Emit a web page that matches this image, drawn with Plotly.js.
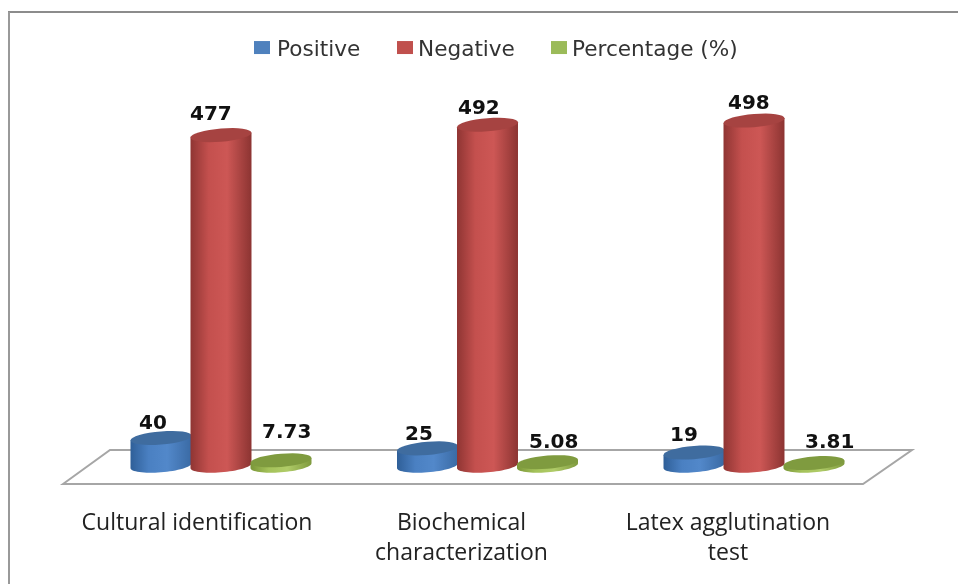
<!DOCTYPE html>
<html><head><meta charset="utf-8">
<script src="https://cdn.plot.ly/plotly-3.0.1.min.js"></script>
<style>html,body{margin:0;padding:0;background:#fff}#chart{width:958px;height:584px;filter:blur(0.5px)}</style>
</head><body><div id="chart"></div>
<script>
var categories = ["Cultural identification", "Biochemical<br>characterization", "Latex agglutination<br>test"];
var positive = [40, 25, 19];
var negative = [477, 492, 498];
var percentage = [7.73, 5.08, 3.81];
var seriesNames = ["Positive", "Negative", "Percentage (%)"];
var seriesValues = [positive, negative, percentage];
var seriesLabels = [["40","25","19"],["477","492","498"],["7.73","5.08","3.81"]];
var seriesColors = ["#4f81bd", "#c0504d", "#9bbb59"];
var topColors = ["#3f6c9f", "#a64341", "#7f9b3f"];
var gradStops = [
  ["#2f5f98","#4a80c2","#5288ca","#3a6aa4"],
  ["#8f3533","#c4504e","#cd5755","#8c3432"],
  ["#7a9638","#a4c25a","#b0cc68","#7f9a3e"]
];
var groupIndex = [0, 1, 2];

/* pixel geometry of the picture */
var W = 958, H = 584;
var baseY = 465.7, plotBottom = 500, yScale = 0.693;
var x0 = 221, xStep = 266.5;
var seriesOffsetPx = [-60, 0, 60];
var halfW = 30.5, halfH = 6.6, tilt = 2.4;
var tickOffsetPx = [-24, -26, -26];
var labelDX = [[-8,-9,-10],[-10,-9,-5],[5,6,15]];
var labelDY = [[-16,-15,-19],[-22,-18,-19],[-29,-21,-22]];
var legendSwatchX = [262, 405, 559];
var legendTextShift = [-5, -7, -7];

var yRange = [-(plotBottom - baseY) / yScale, baseY / yScale];
var xRange = [-x0 / xStep, (W - x0) / xStep];
var pxX = function (p) { return p / xStep; };
var pxY = function (p) { return p / yScale; };

var traces = seriesNames.map(function (name, s) {
  var w = pxX(2 * halfW - 6);
  return {
    type: "bar", name: name, x: groupIndex, y: seriesValues[s],
    width: w, offset: pxX(seriesOffsetPx[s]) - w / 2,
    marker: { color: seriesColors[s] },
    cliponaxis: false, hoverinfo: "x+y"
  };
});

var F = "DejaVu Sans, sans-serif";
function pathFor(cx, v, kind) {
  var N = 32, pts = [], i, a;
  function pt(ang, yc) {
    var ex = halfW * Math.cos(ang), ey = halfH * Math.sin(ang);
    return [cx + pxX(ex), yc + pxY(ey + tilt * Math.cos(ang))];
  }
  if (kind === "top") {
    for (i = 0; i <= N; i++) { a = 2 * Math.PI * i / N; pts.push(pt(a, v)); }
  } else {
    pts.push(pt(Math.PI, v)); pts.push(pt(0, v));
    for (i = 0; i <= N; i++) { a = -Math.PI * i / N; pts.push(pt(a, 0)); }
  }
  return "M" + pts.map(function (p) { return p[0].toFixed(4) + "," + p[1].toFixed(3); }).join("L") + "Z";
}

var shapes = [];
/* chart frame: top and left edges only */
shapes.push({ type: "line", xref: "paper", yref: "paper", layer: "below",
  x0: 8 / W, x1: 1, y0: 1 - 12 / plotBottom, y1: 1 - 12 / plotBottom,
  line: { color: "#8c8c8c", width: 2 } });
shapes.push({ type: "line", xref: "paper", yref: "paper", layer: "below",
  x0: 9 / W, x1: 9 / W, y0: 1 - 12 / plotBottom, y1: 1 - H / plotBottom,
  line: { color: "#999999", width: 2 } });
/* floor */
var fy = function (p) { return (baseY - p) / yScale; };
var fx = function (p) { return (p - x0) / xStep; };
shapes.push({ type: "path", xref: "x", yref: "y", layer: "below",
  path: "M" + fx(63) + "," + fy(484) + "L" + fx(110) + "," + fy(450) + "L" + fx(912) + "," + fy(450) + "L" + fx(863) + "," + fy(484) + "Z",
  line: { color: "#a6a6a6", width: 2 }, fillcolor: "#ffffff" });
var sideIdx = [];
groupIndex.forEach(function (g) {
  seriesNames.forEach(function (n, s) {
    var cx = g + pxX(seriesOffsetPx[s]), v = seriesValues[s][g];
    sideIdx.push([shapes.length, s]);
    shapes.push({ type: "path", xref: "x", yref: "y", layer: "above", path: pathFor(cx, v, "side"),
      line: { width: 0 }, fillcolor: seriesColors[s] });
    shapes.push({ type: "path", xref: "x", yref: "y", layer: "above", path: pathFor(cx, v, "top"),
      line: { width: 0 }, fillcolor: topColors[s] });
  });
});

var annotations = [];
seriesNames.forEach(function (n, s) {
  groupIndex.forEach(function (g) {
    annotations.push({
      x: g + pxX(seriesOffsetPx[s]), y: seriesValues[s][g], xref: "x", yref: "y",
      text: "<b>" + seriesLabels[s][g] + "</b>", showarrow: false,
      xshift: labelDX[s][g], yshift: -labelDY[s][g], xanchor: "center", yanchor: "middle",
      font: { family: F, size: 20, color: "#111" }
    });
  });
});

var layout = {
  width: W, height: H, autosize: false,
  margin: { l: 0, r: 0, t: 0, b: H - plotBottom, pad: 0 },
  paper_bgcolor: "#fff", plot_bgcolor: "rgba(0,0,0,0)",
  barmode: "overlay", showlegend: true,
  legend: { orientation: "h", x: 0.26, xanchor: "left", y: 1 - 27 / plotBottom, yanchor: "top",
    font: { family: F, size: 21.6, color: "#333" }, itemwidth: 30, traceorder: "normal", bgcolor: "rgba(0,0,0,0)" },
  xaxis: { range: xRange, type: "linear", tickmode: "array",
    tickvals: groupIndex.map(function (g, i) { return g + pxX(tickOffsetPx[i]); }),
    ticktext: categories, ticks: "", showline: false, showgrid: false, zeroline: false,
    ticklabelstandoff: 6, tickfont: { family: "Open Sans, sans-serif", size: 23, color: "#222" } },
  yaxis: { range: yRange, type: "linear", visible: false, showgrid: false, zeroline: false },
  shapes: shapes, annotations: annotations
};

Plotly.newPlot("chart", traces, layout, { displayModeBar: false, responsive: false }).then(function () {
  var svg = document.querySelector("#chart svg.main-svg");
  var NS = "http://www.w3.org/2000/svg";
  var defs = document.createElementNS(NS, "defs");
  gradStops.forEach(function (st, s) {
    var g = document.createElementNS(NS, "linearGradient");
    g.setAttribute("id", "cyl" + s);
    g.setAttribute("x1", "0"); g.setAttribute("x2", "1"); g.setAttribute("y1", "0"); g.setAttribute("y2", "0");
    [0, 0.3, 0.6, 1].forEach(function (o, i) {
      var c = document.createElementNS(NS, "stop");
      c.setAttribute("offset", o); c.setAttribute("stop-color", st[i]);
      g.appendChild(c);
    });
    defs.appendChild(g);
  });
  svg.insertBefore(defs, svg.firstChild);
  sideIdx.forEach(function (e) {
    var p = document.querySelector('#chart .layer-above .shapelayer path[data-index="' + e[0] + '"]');
    if (p) p.style.fill = "url(#cyl" + e[1] + ")";
  });
  /* legend: larger swatches, tighter text, reference spacing */
  var box = document.querySelector("#chart .legend .scrollbox");
  if (box) box.removeAttribute("clip-path");
  var legendLeft = W * layout.legend.x;
  document.querySelectorAll("#chart .legend .traces").forEach(function (t, i) {
    var m = (t.getAttribute("transform") || "").match(/translate\(([-\d.]+)[ ,]*([-\d.]*)/);
    var ty = m ? parseFloat(m[2] || 0) : 0;
    t.setAttribute("transform", "translate(" + (legendSwatchX[i] - legendLeft - 20) + "," + ty + ")");
    t.querySelectorAll(".legendpoints path").forEach(function (b) { b.setAttribute("d", "M8,6.5H-8V-6.5H8Z"); });
    var txt = t.querySelector("text.legendtext");
    if (txt) { txt.setAttribute("x", parseFloat(txt.getAttribute("x")) + legendTextShift[i]); }
  });
});
</script></body></html>
